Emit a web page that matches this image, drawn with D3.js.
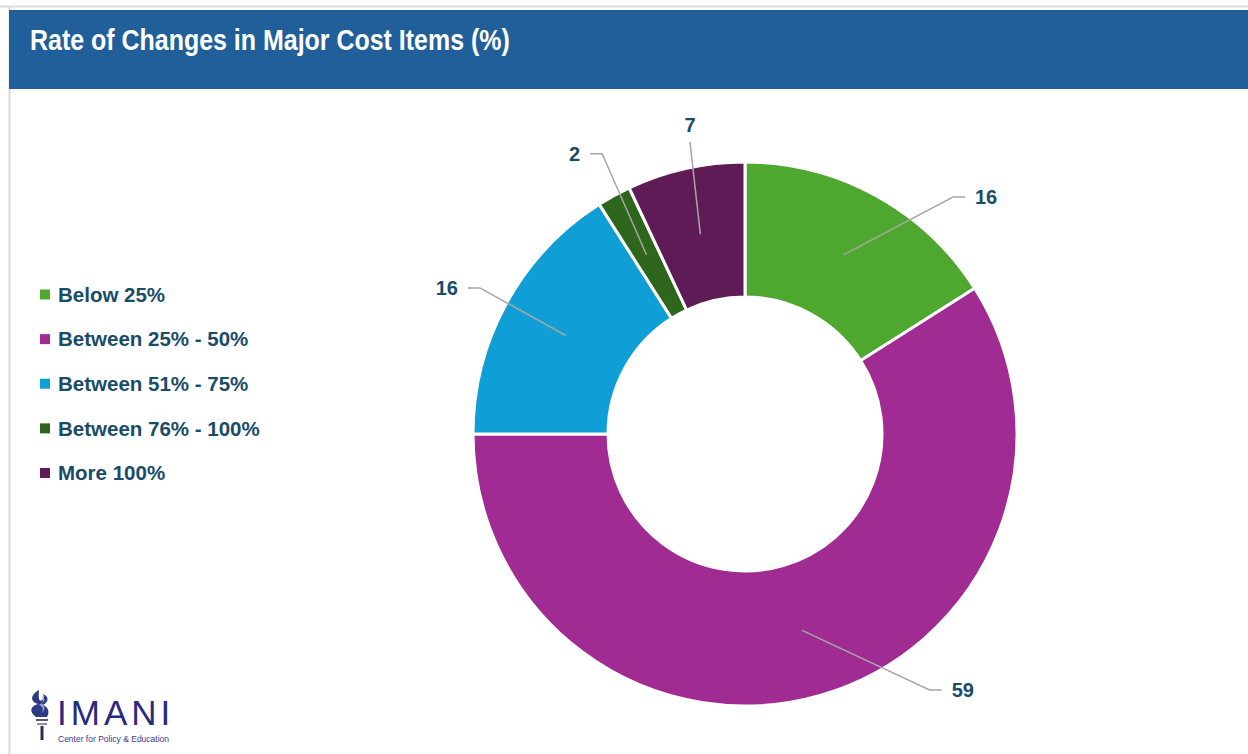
<!DOCTYPE html>
<html>
<head>
<meta charset="utf-8">
<script src="https://cdn.jsdelivr.net/npm/d3@7"></script>
<style>
  html, body { margin: 0; padding: 0; background: #ffffff; }
  svg { display: block; }
</style>
</head>
<body>
<svg id="chart" width="1248" height="754"></svg>
<script>
// Share of respondents by rate of change in major cost items
const categories = ["Below 25%", "Between 25% - 50%", "Between 51% - 75%", "Between 76% - 100%", "More 100%"];
const values = [16, 59, 16, 2, 7];
const colors = ["#4EA72E", "#A02B93", "#0F9ED5", "#2D661C", "#5E1B55"];

// Data-label placement: angular nudge (degrees) from the slice middle and distance from centre
const labelNudge = [16.7, -24.2, -2.7, -2.5, 2.5];
const labelDist = [338, 336, 332, 328, 314];

const W = 1248, H = 754;
const textColor = "#184C69";
const svg = d3.select("#chart");

// Frame: faint top rule and left rule
svg.append("line").attr("x1", 0).attr("x2", W).attr("y1", 6.5).attr("y2", 6.5)
  .attr("stroke", "#dcdcdc").attr("stroke-width", 2);
svg.append("line").attr("x1", 9.5).attr("x2", 9.5).attr("y1", 6).attr("y2", H)
  .attr("stroke", "#dcdcdc").attr("stroke-width", 2);

// Header band with title (condensed to a narrow face width)
svg.append("rect").attr("x", 9).attr("y", 10).attr("width", W - 9).attr("height", 79)
  .attr("fill", "#215F9A");
const titleWidth = 480;
const title = svg.append("text")
  .attr("x", 0).attr("y", 0)
  .attr("fill", "#ffffff")
  .style("font-family", "'Liberation Sans', Arial, sans-serif")
  .style("font-weight", "bold")
  .style("font-size", "29px")
  .text("Rate of Changes in Major Cost Items (%)");
const rawW = title.node().getComputedTextLength();
title.attr("transform", `translate(30,50) scale(${titleWidth / rawW},1)`);

// Donut
const cx = 745, cy = 434;
const rOuter = 272, rInner = 137;
const pie = d3.pie().sort(null).value(d => d)
  .startAngle(0).endAngle(2 * Math.PI);
const arcs = pie(values);
const arc = d3.arc().innerRadius(rInner).outerRadius(rOuter);
const midArc = d3.arc().innerRadius((rInner + rOuter) / 2).outerRadius((rInner + rOuter) / 2);

const g = svg.append("g").attr("transform", `translate(${cx},${cy})`);
g.selectAll("path.slice")
  .data(arcs)
  .join("path")
  .attr("class", "slice")
  .attr("d", arc)
  .attr("fill", (d, i) => colors[i])
  .attr("stroke", "#ffffff")
  .attr("stroke-width", 3)
  .attr("stroke-linejoin", "miter");

// Data labels with leader lines
const labelFont = "'Liberation Sans', Arial, sans-serif";
arcs.forEach((d, i) => {
  const mid = (d.startAngle + d.endAngle) / 2;
  const a = mid + labelNudge[i] * Math.PI / 180;
  const lx = labelDist[i] * Math.sin(a);
  const ly = -labelDist[i] * Math.cos(a);
  const [sx, sy] = midArc.centroid(d);

  const t = g.append("text")
    .attr("x", lx).attr("y", ly)
    .attr("text-anchor", "middle")
    .attr("dy", "0.35em")
    .attr("fill", textColor)
    .style("font-family", labelFont)
    .style("font-weight", "bold")
    .style("font-size", "20px")
    .text(values[i]);
  const halfW = t.node().getComputedTextLength() / 2;

  let pts;
  if (Math.abs(Math.sin(a)) < 0.3) {
    // label sits above the ring: run straight to its lower edge
    pts = [[sx, sy], [lx, ly + 17]];
  } else {
    const side = Math.sin(a) > 0 ? 1 : -1;
    const endX = lx - side * (halfW + 10);
    const elbowX = endX - side * 12;
    pts = [[sx, sy], [elbowX, ly], [endX, ly]];
  }
  g.insert("path", "text")
    .attr("d", d3.line()(pts))
    .attr("fill", "none")
    .attr("stroke", "#A6A6A6")
    .attr("stroke-width", 1.5);
});

// Legend
const legendY = d3.scalePoint().domain(categories).range([294.5, 473]);
const legend = svg.append("g");
categories.forEach((c, i) => {
  const y = legendY(c);
  legend.append("rect")
    .attr("x", 40).attr("y", y - 5).attr("width", 10).attr("height", 10)
    .attr("fill", colors[i]);
  legend.append("text")
    .attr("x", 58).attr("y", y).attr("dy", "0.35em")
    .attr("fill", textColor)
    .style("font-family", labelFont)
    .style("font-weight", "bold")
    .style("font-size", "20.5px")
    .text(c);
});

// Organisation mark, bottom left
const logo = svg.append("g");
const torch = logo.append("g").attr("transform", "translate(36,690)");
torch.append("path")
  .attr("d", "M3,0 C-7,6 -5,12 2,14 C-6,16 -7,22 0,27 L11,27 C15,20 10,16 7,15 C13,12 13,6 7,4 C9,8 7,10 4,11 C2,7 3,4 3,0 Z")
  .attr("fill", "#2E3A86");
torch.append("path")
  .attr("d", "M6,6 C10,9 9,12 5,13 C9,15 10,19 6,23 C8,18 6,16 3,15 C7,12 8,10 6,6 Z")
  .attr("fill", "#8AA3D8");
torch.append("rect").attr("x", 0).attr("y", 29).attr("width", 12).attr("height", 2).attr("fill", "#555a7a");
torch.append("rect").attr("x", 1).attr("y", 33).attr("width", 10).attr("height", 2).attr("fill", "#8c90a8");
torch.append("rect").attr("x", 4.5).attr("y", 36).attr("width", 3).attr("height", 14).attr("fill", "#2a2d55");
logo.append("text")
  .attr("x", 57).attr("y", 725)
  .attr("fill", "#2B2A7E")
  .style("font-family", "'Liberation Sans', Arial, sans-serif")
  .style("font-size", "35px")
  .style("letter-spacing", "4px")
  .text("IMANI");
logo.append("text")
  .attr("x", 58).attr("y", 742)
  .attr("fill", "#3A3A8C")
  .style("font-family", "'Liberation Sans', Arial, sans-serif")
  .style("font-size", "8.5px")
  .text("Center for Policy & Education");
</script>
</body>
</html>
